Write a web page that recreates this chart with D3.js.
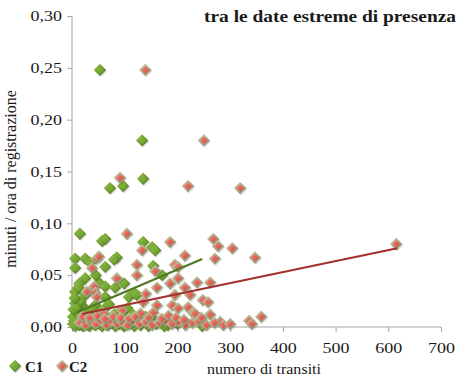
<!DOCTYPE html>
<html lang="it">
<head>
<meta charset="utf-8">
<title>Grafico</title>
<script src="https://d3js.org/d3.v7.min.js"></script>
<style>
  body { margin: 0; background: #fff; }
  svg { display: block; }
  text { font-family: "Liberation Serif", "Times New Roman", serif; fill: #1a1a1a; }
  .axis path, .axis line { stroke: #a6a6a6; }
</style>
</head>
<body>
<script>
// values: [numero di transiti, minuti / ora]
var c1Points = [
  [53,0.248],[133,0.180],[135,0.143],[72,0.134],[97,0.136],
  [15,0.090],[57,0.083],[63,0.085],[6,0.066],[25,0.066],[85,0.067],[80,0.065],
  [6,0.057],[63,0.058],[135,0.082],[152,0.077],[158,0.074],[154,0.059],[35,0.062],
  [25,0.047],[51,0.043],[63,0.039],[82,0.038],[99,0.042],[6,0.034],[25,0.031],
  [63,0.029],[108,0.029],[118,0.033],[171,0.050],[40,0.036],[14,0.042],[45,0.050],
  [6,0.023],[19,0.021],[44,0.021],[123,0.031],[30,0.015],[10,0.014],[60,0.017],
  [90,0.015],[80,0.012],[140,0.010],[2,0.010],[50,0.010],[100,0.011],
  [2,0.003],[4,0.006],[6,0.001],[8,0.009],[10,0.004],[12,0.012],[14,0.002],[16,0.007],
  [18,0.004],[21,0.001],[24,0.008],[27,0.003],[30,0.006],[33,0.001],[36,0.010],[40,0.004],
  [44,0.002],[48,0.007],[52,0.003],[57,0.001],[62,0.006],[68,0.002],[74,0.004],[82,0.001],
  [90,0.003],[98,0.001],[108,0.003],[118,0.001],[130,0.002],[145,0.001],[160,0.003],
  [175,0.001],[182,0.002],[200,0.003],[247,0.001],
  [3,0.017],[9,0.019],[16,0.025],[5,0.028],[12,0.038],[22,0.012],[38,0.018],[70,0.022],
  [105,0.018],[115,0.012],[150,0.010]
];
var c2Points = [
  [139,0.248],[250,0.180],[91,0.144],[220,0.136],[319,0.134],
  [104,0.090],[268,0.085],[277,0.078],[304,0.076],[271,0.066],[347,0.067],[186,0.082],
  [133,0.074],[214,0.069],[47,0.066],[51,0.068],[123,0.060],[195,0.060],[201,0.058],
  [38,0.057],[158,0.054],[123,0.050],[85,0.047],[201,0.047],[237,0.043],[214,0.038],
  [161,0.038],[186,0.042],[262,0.043],[42,0.039],[44,0.033],[28,0.034],[47,0.029],
  [224,0.031],[195,0.031],[140,0.032],[248,0.026],[258,0.024],[161,0.021],[135,0.024],
  [190,0.021],[201,0.018],[220,0.019],[229,0.014],[154,0.014],[233,0.013],[130,0.013],
  [60,0.013],[95,0.016],[262,0.012],[359,0.010],[336,0.006],[341,0.003],[249,0.004],
  [281,0.005],[287,0.002],
  [15,0.004],[25,0.002],[35,0.005],[45,0.003],[55,0.006],[65,0.002],[75,0.005],[85,0.003],
  [95,0.005],[105,0.002],[115,0.006],[128,0.003],[140,0.005],[152,0.002],[165,0.004],
  [178,0.006],[190,0.003],[203,0.005],[215,0.002],[228,0.004],[240,0.006],[255,0.002],
  [270,0.004],[300,0.003],
  [20,0.010],[33,0.009],[48,0.011],[62,0.008],[78,0.010],[92,0.009],[108,0.008],
  [120,0.010],[145,0.009],[170,0.008],[183,0.011],[197,0.009],[212,0.007],[245,0.009],
  [615,0.080]
];
var c1Trend = [[11,0.0145],[247,0.0656]];
var c2Trend = [[19,0.0125],[617,0.076]];
var xTicks = [0,100,200,300,400,500,600,700];
var yTicks = [0,0.05,0.10,0.15,0.20,0.25,0.30];
var seriesNames = ["C1","C2"];

var w = 458, h = 379;
var svg = d3.select("body").append("svg").attr("width", w).attr("height", h);

var x = d3.scaleLinear().domain([0,700]).range([72,441]);
var y = d3.scaleLinear().domain([0,0.30]).range([327,16]);

// bevelled diamond look
var defs = svg.append("defs");
function grad(id, c0, c1) {
  var g = defs.append("linearGradient").attr("id", id)
    .attr("x1","0").attr("y1","0").attr("x2","1").attr("y2","1");
  g.append("stop").attr("offset","0").attr("stop-color", c0);
  g.append("stop").attr("offset","1").attr("stop-color", c1);
}
grad("gOut", "#9ec84f", "#436f18");
grad("gIn", "#8cbb44", "#669a28");
grad("rOut", "#d0cdab", "#87855d");
grad("rIn", "#f3847a", "#d6433b");

var R = 6.2;
function diamond(r) {
  return "M0," + (-r) + "L" + r + ",0L0," + r + "L" + (-r) + ",0Z";
}
function drawMarker(sel, kind) {
  sel.append("path").attr("d", diamond(R)).attr("transform","translate(1,1.2)")
    .attr("fill","#000").attr("opacity",0.14);
  sel.append("path").attr("d", diamond(R)).attr("fill","url(#" + kind + "Out)");
  sel.append("path").attr("d", diamond(kind === "g" ? 4.2 : 3.7)).attr("fill","url(#" + kind + "In)");
}

// axes (labels in the picture are a bit stretched sideways)
var sx = 1.2;
var yAxis = d3.axisLeft(y).tickValues(yTicks).tickSize(5).tickPadding(5)
  .tickFormat(function(d){ return d3.format(".2f")(d).replace(".", ","); });
var xAxis = d3.axisBottom(x).tickValues(xTicks).tickSize(5).tickPadding(10)
  .tickFormat(d3.format("d"));

var gy = svg.append("g").attr("class","axis").attr("transform","translate(72,0)").call(yAxis);
gy.select(".domain").attr("d","M0,16V327");
gy.selectAll("text").attr("x", -10 / sx).attr("transform","scale(" + sx + ",1)");

var gx = svg.append("g").attr("class","axis").attr("transform","translate(0,327)").call(xAxis);
gx.select(".domain").attr("d","M72,0H441");
gx.selectAll(".tick text").attr("transform","scale(" + sx + ",1)");

svg.selectAll(".axis").attr("font-family", null).attr("font-size", null);
svg.selectAll(".axis text").style("font-family","'Liberation Serif', serif")
  .style("font-size","15px").style("fill","#1a1a1a");

// points
svg.append("g").selectAll("g").data(c1Points).enter().append("g")
  .attr("transform", function(d){ return "translate(" + x(d[0]) + "," + y(d[1]) + ")"; })
  .each(function(){ drawMarker(d3.select(this), "g"); });
svg.append("g").selectAll("g").data(c2Points).enter().append("g")
  .attr("transform", function(d){ return "translate(" + x(d[0]) + "," + y(d[1]) + ")"; })
  .each(function(){ drawMarker(d3.select(this), "r"); });

// trend lines
var line = d3.line().x(function(d){ return x(d[0]); }).y(function(d){ return y(d[1]); });
svg.append("path").datum(c1Trend).attr("d", line).attr("fill","none")
  .attr("stroke","#4e7a25").attr("stroke-width",2.2);
svg.append("path").datum(c2Trend).attr("d", line).attr("fill","none")
  .attr("stroke","#a3302e").attr("stroke-width",2.2);

// titles
svg.append("text").attr("x",204).attr("y",22)
  .attr("font-size","17px").attr("font-weight","bold")
  .attr("textLength",252).attr("lengthAdjust","spacingAndGlyphs")
  .text("tra le date estreme di presenza");
svg.append("text").attr("x",207).attr("y",374)
  .attr("font-size","15px")
  .attr("textLength",114).attr("lengthAdjust","spacingAndGlyphs")
  .text("numero di transiti");
svg.append("text").attr("transform","translate(16,179)rotate(-90)")
  .attr("text-anchor","middle").attr("font-size","16px")
  .text("minuti / ora di registrazione");

// legend
var leg = svg.append("g");
[["g",15,25],["r",62,69]].forEach(function(l, i){
  var m = leg.append("g").attr("transform","translate(" + l[1] + ",366)");
  drawMarker(m, l[0]);
  leg.append("text").attr("x", l[2]).attr("y",372).attr("font-size","15px")
    .attr("font-weight","bold").text(seriesNames[i]);
});
</script>
</body>
</html>
